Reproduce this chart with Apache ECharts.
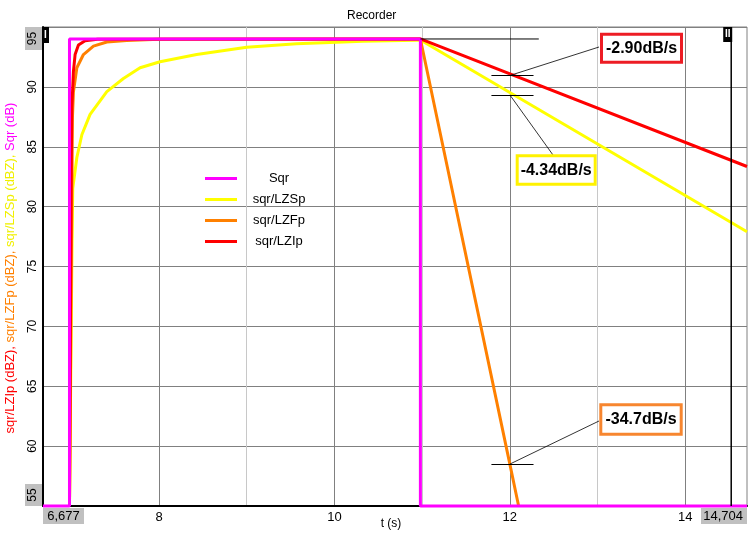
<!DOCTYPE html>
<html><head><meta charset="utf-8">
<script src="https://cdn.jsdelivr.net/npm/echarts@6/dist/echarts.min.js"></script>
<style>html,body{margin:0;padding:0;background:#fff}#c{width:750px;height:540px}</style>
</head><body><div id="c"></div>
<script>
// ---- data ----
const seriesNames = ['Sqr', 'sqr/LZSp', 'sqr/LZFp', 'sqr/LZIp'];
const tMin = 6.677, tMax = 14.704;
const yMin = 55, yMax = 95, yStep = 5;
const xLabelTicks = [8, 10, 12, 14];
const xGridTicks = [8, 9, 10, 11, 12, 13, 14];

const sqrT = [6.677, 6.979, 6.979, 10.98, 10.98, 14.704];
const sqrV = [55, 55, 94, 94, 55, 55];

const lzsT = [6.979, 7.008, 7.016, 7.063, 7.120, 7.214, 7.405, 7.594, 7.784, 8.011, 8.429, 8.999, 9.568, 10.326, 10.934, 10.98, 14.704];
const lzsV = [55, 77.0, 81.5, 84.1, 86.0, 87.7, 89.6, 90.7, 91.6, 92.1, 92.7, 93.3, 93.6, 93.8, 93.9, 93.92, 77.9];

const lzfT = [6.979, 7.013, 7.024, 7.063, 7.138, 7.252, 7.405, 7.632, 8.0, 10.98, 12.0, 12.1];
const lzfV = [55, 87.5, 89.6, 91.6, 92.7, 93.4, 93.75, 93.88, 93.97, 94.0, 58.5, 55];

const lziT = [6.979, 7.0, 7.006, 7.024, 7.043, 7.081, 7.157, 7.3, 10.98, 14.704];
const lziV = [55, 84, 88.3, 91.3, 92.7, 93.5, 93.86, 93.98, 94.0, 83.35];

const slopeLabels = ['-2.90dB/s', '-4.34dB/s', '-34.7dB/s'];
const slopeAnchorT = [12, 12, 12];
const slopeAnchorV = [90.95, 89.33, 58.5];
const decayStartT = 10.98, decayStartV = 94.0;
const cursorT = [6.677, 14.524];

// ---- chart ----
const FF = '"Liberation Sans", Arial, sans-serif';
const zip = (ts, vs) => ts.map((t, i) => [t, vs[i]]);
const col = { 'Sqr': '#ff00ff', 'sqr/LZSp': '#ffff00', 'sqr/LZFp': '#ff8000', 'sqr/LZIp': '#ff0000' };
const chart = echarts.init(document.getElementById('c'));

function line(name, data, extra) {
  return Object.assign({
    name: name, type: 'line', data: data, showSymbol: false, symbol: 'none',
    lineStyle: { color: col[name], width: 3 }, itemStyle: { color: col[name] },
    emphasis: { disabled: true }
  }, extra || {});
}

chart.setOption({
  animation: false,
  backgroundColor: '#fff',
  title: { text: 'Recorder', left: 347, top: 10, padding: 0,
    textStyle: { fontSize: 12, fontWeight: 'normal', color: '#000', fontFamily: FF } },
  grid: { left: 43, right: 3, top: 27, bottom: 34, show: true, borderColor: '#808080', borderWidth: 1, backgroundColor: '#fff' },
  legend: {
    orient: 'vertical', left: 200, top: 167, itemWidth: 32, itemHeight: 3, itemGap: 8, icon: 'rect',
    data: seriesNames,
    formatter: n => '{c|' + n + '}',
    textStyle: { rich: { c: { width: 74, align: 'center', fontSize: 13, lineHeight: 14, fontFamily: FF, color: '#000' } } }
  },
  xAxis: {
    type: 'value', min: tMin, max: tMax,
    axisLine: { lineStyle: { color: '#000', width: 2 } },
    axisTick: { show: false, customValues: xGridTicks },
    axisLabel: { customValues: xLabelTicks, fontSize: 13, color: '#000', margin: 5, fontFamily: FF },
    splitLine: { show: true, lineStyle: { color: ['#808080', '#c8c8c8'], width: 1 } }
  },
  yAxis: {
    type: 'value', min: yMin, max: yMax, interval: yStep,
    axisLine: { show: true, lineStyle: { color: '#000', width: 2 } },
    axisTick: { show: false },
    axisLabel: { rotate: 90, fontSize: 12, color: '#000', margin: 4, showMinLabel: false, showMaxLabel: false, fontFamily: FF },
    splitLine: { lineStyle: { color: '#808080', width: 1 } }
  },
  series: [
    line('sqr/LZSp', zip(lzsT, lzsV)),
    line('sqr/LZFp', zip(lzfT, lzfV)),
    line('sqr/LZIp', zip(lziT, lziV)),
    line('Sqr', zip(sqrT, sqrV), { clip: false })
  ]
});

const P = (t, v) => chart.convertToPixel({ gridIndex: 0 }, [t, v]);
const g = [];
const Z = 100;
// y-axis name (multi-colour)
g.push({ type: 'text', x: 10, y: 268, rotation: Math.PI / 2, z: Z,
  style: { text: '{r|sqr/LZIp (dBZ), }{o|sqr/LZFp (dBZ), }{y|sqr/LZSp (dBZ), }{m|Sqr (dB)}',
    align: 'center', verticalAlign: 'middle', font: '13px ' + FF,
    rich: { r: { fill: '#ff0000', fontSize: 13, fontFamily: FF }, o: { fill: '#ff8000', fontSize: 13, fontFamily: FF },
            y: { fill: '#f0f000', fontSize: 13, fontFamily: FF }, m: { fill: '#ff00ff', fontSize: 13, fontFamily: FF } } } });
// x-axis name
g.push({ type: 'text', x: 391, y: 524, z: Z, style: { text: 't (s)', align: 'center', verticalAlign: 'middle', font: '12px ' + FF, fill: '#000' } });

// edge labels with grey boxes
const pTop = P(tMin, yMax), pBot = P(tMax, yMin);
const fmt = v => v.toFixed(3).replace('.', ',');
g.push({ type: 'rect', z: Z, shape: { x: 25, y: pTop[1], width: 17, height: 23 }, style: { fill: '#c0c0c0' } });
g.push({ type: 'text', z: Z + 1, x: 33, y: pTop[1] + 11.5, rotation: Math.PI / 2, style: { text: String(yMax), align: 'center', verticalAlign: 'middle', font: '12px ' + FF, fill: '#000' } });
g.push({ type: 'rect', z: Z, shape: { x: 25, y: pBot[1] - 22, width: 17, height: 22 }, style: { fill: '#c0c0c0' } });
g.push({ type: 'text', z: Z + 1, x: 33, y: pBot[1] - 11, rotation: Math.PI / 2, style: { text: String(yMin), align: 'center', verticalAlign: 'middle', font: '12px ' + FF, fill: '#000' } });
g.push({ type: 'rect', z: Z, shape: { x: pTop[0], y: 508, width: 41, height: 16 }, style: { fill: '#c0c0c0' } });
g.push({ type: 'text', z: Z + 1, x: pTop[0] + 20.5, y: 516, style: { text: fmt(tMin), align: 'center', verticalAlign: 'middle', font: '13px ' + FF, fill: '#000' } });
g.push({ type: 'rect', z: Z, shape: { x: pBot[0] - 46, y: 508, width: 46, height: 16 }, style: { fill: '#c0c0c0' } });
g.push({ type: 'text', z: Z + 1, x: pBot[0] - 4, y: 516, style: { text: fmt(tMax), align: 'right', verticalAlign: 'middle', font: '13px ' + FF, fill: '#000' } });

// cursors
const c1 = P(cursorT[0], yMax), c2 = P(cursorT[1], yMax);
g.push({ type: 'rect', z: Z, shape: { x: c1[0] - 1, y: pTop[1], width: 7, height: 16 }, style: { fill: '#000' } });
g.push({ type: 'text', z: Z + 1, x: c1[0] + 2.5, y: pTop[1] + 8, style: { text: 'I', align: 'center', verticalAlign: 'middle', font: 'bold 10px ' + FF, fill: '#fff' } });
g.push({ type: 'line', z: Z - 5, shape: { x1: c2[0], y1: pTop[1], x2: c2[0], y2: pBot[1] }, style: { stroke: '#000', lineWidth: 1.5 } });
g.push({ type: 'rect', z: Z, shape: { x: c2[0] - 8, y: pTop[1], width: 9, height: 15 }, style: { fill: '#000' } });
g.push({ type: 'text', z: Z + 1, x: c2[0] - 3.5, y: pTop[1] + 7.5, style: { text: 'II', align: 'center', verticalAlign: 'middle', font: 'bold 10px ' + FF, fill: '#fff' } });

// decay reference line
const d0 = P(decayStartT, decayStartV), d1 = P(12.33, decayStartV);
g.push({ type: 'line', z: Z, shape: { x1: d0[0], y1: d0[1], x2: d1[0], y2: d1[1] }, style: { stroke: '#000', lineWidth: 1 } });

// slope annotations
const boxes = [
  { x: 601.5, y: 34.2, w: 80, h: 28, color: '#ed1c24', lead: [599, 47] },
  { x: 517.2, y: 155.8, w: 78, h: 28.5, color: '#fff200', lead: [553, 155] },
  { x: 600.8, y: 404.8, w: 80.4, h: 29.5, color: '#f7862f', lead: [599, 421] }
];
slopeLabels.forEach((lab, i) => {
  const a = P(slopeAnchorT[i], slopeAnchorV[i]);
  const l = P(slopeAnchorT[i] - 0.21, slopeAnchorV[i]), r = P(slopeAnchorT[i] + 0.27, slopeAnchorV[i]);
  const b = boxes[i];
  g.push({ type: 'line', z: Z, shape: { x1: l[0], y1: Math.round(a[1]) + 0.5, x2: r[0], y2: Math.round(a[1]) + 0.5 }, style: { stroke: '#000', lineWidth: 1 } });
  g.push({ type: 'line', z: Z, shape: { x1: a[0], y1: a[1], x2: b.lead[0], y2: b.lead[1] }, style: { stroke: '#000', lineWidth: 0.8 } });
  g.push({ type: 'rect', z: Z, shape: { x: b.x, y: b.y, width: b.w, height: b.h }, style: { fill: '#fff', stroke: b.color, lineWidth: 3 } });
  g.push({ type: 'text', z: Z + 1, x: b.x + b.w / 2, y: b.y + b.h / 2 + 0.5, style: { text: lab, align: 'center', verticalAlign: 'middle', font: 'bold 16px ' + FF, fill: '#000' } });
});

chart.setOption({ graphic: g });
</script>
</body></html>
